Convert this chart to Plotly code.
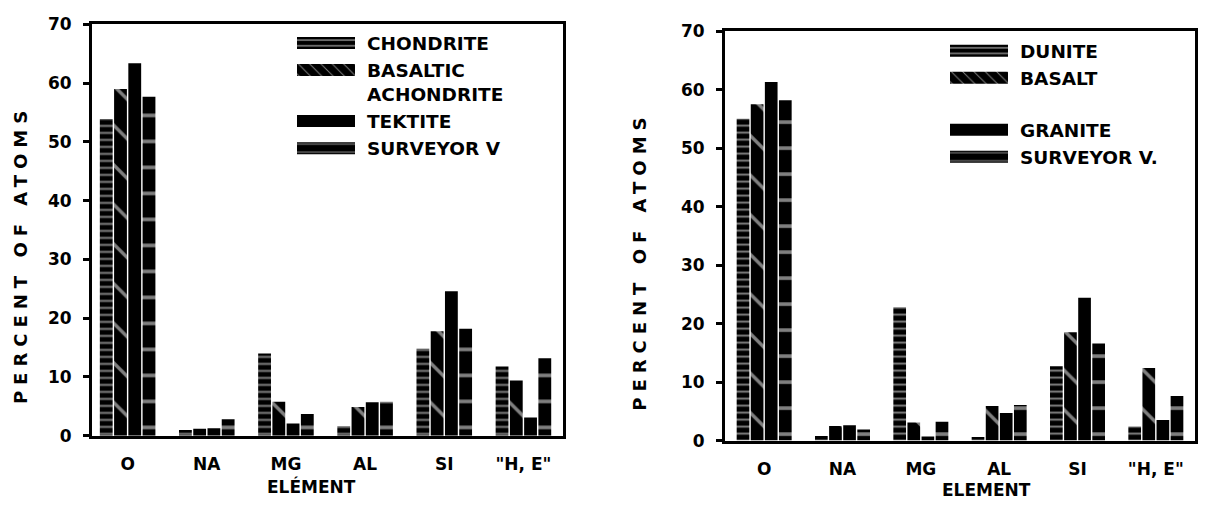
import plotly.graph_objects as go

elements = ["O", "NA", "MG", "AL", "SI", '"H, E"']

# Left panel
left_names = ["CHONDRITE", "BASALTIC<br>ACHONDRITE", "TEKTITE", "SURVEYOR V"]
chondrite = [53.9, 1.0, 14.0, 1.6, 14.8, 11.8]
basaltic_achondrite = [59.0, 1.2, 5.8, 4.9, 17.8, 9.4]
tektite = [63.4, 1.3, 2.1, 5.7, 24.6, 3.1]
surveyor_left = [57.7, 2.8, 3.7, 5.8, 18.2, 13.2]

# Right panel
right_names = ["DUNITE", "BASALT", "GRANITE", "SURVEYOR V."]
dunite = [55.0, 0.8, 22.8, 0.6, 12.7, 2.4]
basalt = [57.5, 2.5, 3.1, 5.9, 18.5, 12.4]
granite = [61.3, 2.6, 0.7, 4.7, 24.4, 3.5]
surveyor_right = [58.2, 1.9, 3.2, 6.1, 16.6, 7.6]

y_ticks = [0, 10, 20, 30, 40, 50, 60, 70]

FONT = "DejaVu Sans"
BLACK = "#000000"

patterns = [
    dict(shape="-", fgcolor="white", bgcolor=BLACK, size=7, solidity=0.28),
    dict(shape="\\", fgcolor="white", bgcolor=BLACK, size=28, solidity=0.12),
    dict(shape="", fgcolor=BLACK, bgcolor=BLACK),
    dict(shape="-", fgcolor="white", bgcolor=BLACK, size=26, solidity=0.14),
]

fig = go.Figure()

left_series = [chondrite, basaltic_achondrite, tektite, surveyor_left]
right_series = [dunite, basalt, granite, surveyor_right]

for i, (name, vals) in enumerate(zip(left_names, left_series)):
    fig.add_trace(go.Bar(
        x=elements, y=vals, name=name, xaxis="x", yaxis="y",
        marker=dict(color=BLACK, line=dict(width=0), pattern=patterns[i]),
        legend="legend",
    ))

groups = ["a", "a", "b", "b"]
for i, (name, vals) in enumerate(zip(right_names, right_series)):
    fig.add_trace(go.Bar(
        x=elements, y=vals, name=name, xaxis="x2", yaxis="y2",
        marker=dict(color=BLACK, line=dict(width=0), pattern=patterns[i]),
        legend="legend2", legendgroup=groups[i],
    ))

W, H = 1205, 514
def px(x):
    return x / W
def py(y):
    return (H - y) / H

tickfont = dict(family=FONT, size=17, color=BLACK, weight="bold")

def xaxis_cfg(domain, anchor, rng):
    return dict(
        domain=domain, anchor=anchor, type="category",
        range=rng, showline=True, linewidth=3, linecolor=BLACK,
        mirror=True, ticks="", showgrid=False, zeroline=False,
        tickfont=tickfont, ticklabelstandoff=11,
    )

def yaxis_cfg(domain, anchor):
    return dict(
        domain=domain, anchor=anchor, range=[0, 70],
        tickvals=y_ticks, showline=True, linewidth=3, linecolor=BLACK,
        mirror=True, ticks="outside", ticklen=6, tickwidth=3,
        tickcolor=BLACK, showgrid=False, zeroline=False,
        tickfont=tickfont, ticklabelstandoff=8,
    )

legfont = dict(family=FONT, size=18.5, color=BLACK, weight="bold")
titlefont = dict(family=FONT, size=18, color=BLACK, weight="bold")
xtitlefont = dict(family=FONT, size=17, color=BLACK, weight="bold")

fig.update_layout(
    width=W, height=H,
    margin=dict(l=0, r=0, t=0, b=0),
    paper_bgcolor="white", plot_bgcolor="white",
    barmode="group", bargap=0.28, bargroupgap=0.1,
    showlegend=True,
    xaxis=xaxis_cfg([px(92), px(563)], "y", [-0.45, 5.5]),
    yaxis=yaxis_cfg([py(443), py(15)], "x"),
    xaxis2=xaxis_cfg([px(725), px(1195)], "y2", [-0.5, 5.5]),
    yaxis2=yaxis_cfg([py(448), py(22)], "x2"),
    legend=dict(x=px(287), y=py(15), xanchor="left", yanchor="top",
                font=legfont, bgcolor="rgba(0,0,0,0)", itemwidth=70,
                valign="top", traceorder="normal", tracegroupgap=0),
    legend2=dict(x=px(940), y=py(23), xanchor="left", yanchor="top",
                 font=legfont, bgcolor="rgba(0,0,0,0)", itemwidth=70,
                 valign="top", traceorder="grouped", tracegroupgap=25),
    annotations=[
        dict(text="PERCENT OF ATOMS", x=px(20), y=py(255), xref="paper", yref="paper",
             xanchor="center", yanchor="middle",
             textangle=-90, showarrow=False, font=titlefont),
        dict(text="ELÉMENT", x=px(311), y=py(496), xref="paper", yref="paper",
             xanchor="center", yanchor="middle", showarrow=False, font=xtitlefont),
        dict(text="PERCENT OF ATOMS", x=px(640), y=py(262), xref="paper", yref="paper",
             xanchor="center", yanchor="middle",
             textangle=-90, showarrow=False, font=titlefont),
        dict(text="ELEMENT", x=px(986), y=py(499), xref="paper", yref="paper",
             xanchor="center", yanchor="middle", showarrow=False, font=xtitlefont),
    ],
)

post = """
document.body.style.margin = '0';
document.body.style.overflow = 'hidden';
function fixLook() {
  try {
    document.querySelectorAll('.annotation-text').forEach(function(t){
      if (t.textContent.indexOf('PERCENT') >= 0 && t.style.letterSpacing !== '6px') {
        t.style.letterSpacing = '6px';
      }
    });
    document.querySelectorAll('g.traces').forEach(function(tr){
      var t = tr.querySelector('text.legendtext, text.legend2text');
      if (!t) return;
      var tb = t.getBoundingClientRect();
      if (!tb || tb.width === 0) return;
      tr.querySelectorAll('.legendpoints path').forEach(function(p){
        var m = p.getScreenCTM();
        if (!m) return;
        var x1 = Math.round((tb.left - 70 - m.e) / m.a);
        var x2 = Math.round((tb.left - 12 - m.e) / m.a);
        var d = 'M' + x1 + ',6H' + x2 + 'V-6H' + x1 + 'Z';
        if (p.getAttribute('d') !== d) { p.setAttribute('d', d); }
      });
    });
  } catch (e) {}
}
fixLook();
var gdiv = document.querySelector('.plotly-graph-div');
if (gdiv && gdiv.on) { gdiv.on('plotly_afterplot', fixLook); }
new MutationObserver(function(){ fixLook(); }).observe(document.body,
  {subtree: true, childList: true, attributes: true, attributeFilter: ['d', 'transform', 'x']});
requestAnimationFrame(fixLook);
var nfix = 0;
var iv = setInterval(function(){ fixLook(); nfix += 1; if (nfix > 40) clearInterval(iv); }, 50);
"""

fig.write_html("out.html", post_script=post, config={"displayModeBar": False})
